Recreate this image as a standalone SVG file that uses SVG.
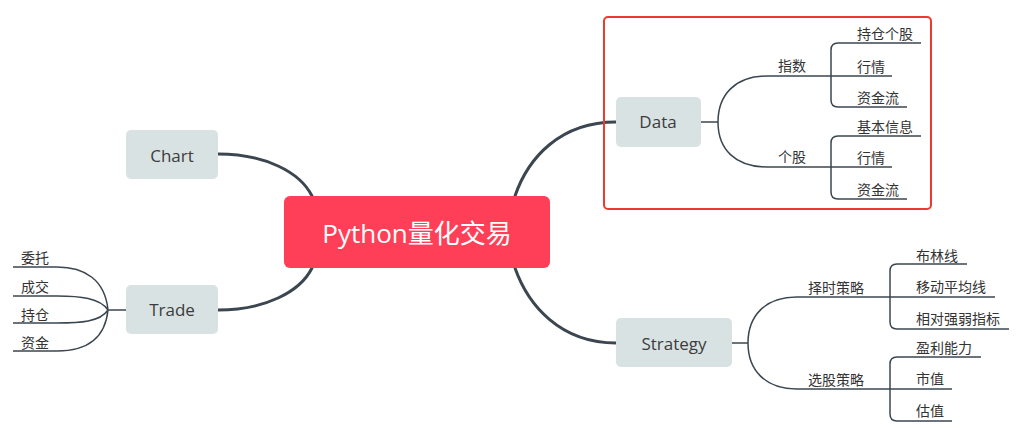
<svg xmlns="http://www.w3.org/2000/svg" width="1016" height="428" viewBox="0 0 1016 428">
<style>
.main{fill:none;stroke:#3b4650;stroke-width:3;stroke-linecap:round}
.sub{fill:none;stroke:#3b4650;stroke-width:1.5}
.node{fill:#d9e2e3}
.nt{font-family:"Open Sans","Noto Sans CJK SC",sans-serif;font-size:17px;fill:#3c3c3c;text-anchor:middle}
.lt{font-family:"Noto Sans CJK SC","Noto Sans",sans-serif;font-size:14px;fill:#333}
</style>
<rect width="1016" height="428" fill="#ffffff"/>
<g id="connectors">
<path class="main" d="M218,154 C265,154 300,172 312,196"/>
<path class="main" d="M218,310 C265,310 300,292 312,268"/>
<path class="main" d="M515,196 C528,158 560,122 616,122"/>
<path class="main" d="M515,268 C528,305 560,343 616,343"/>
<path class="sub" d="M701,122 L718,122 M718,122 C718,95 735,76 767,76 L892,76 M718,122 C718,149 735,167 767,167 L892,167"/>
<path class="sub" d="M921,43 L838,43 Q831,43 831,50 L831,100 Q831,107 838,107 L907,107"/>
<path class="sub" d="M921,136 L838,136 Q831,136 831,143 L831,192 Q831,199 838,199 L907,199"/>
<path class="sub" d="M732,343 L748,343 M748,343 C748,316 765,297 797,297 L995,297 M748,343 C748,370 765,389 797,389 L952,389"/>
<path class="sub" d="M967,264 L897,264 Q890,264 890,271 L890,322 Q890,329 897,329 L1009,329"/>
<path class="sub" d="M981,357 L897,357 Q890,357 890,364 L890,414 Q890,421 897,421 L952,421"/>
<path class="sub" d="M126,310 L108,310 M108,310 C105,280 85,267 57,267 L13,267 M108,310 C100,298 80,296 57,296 L13,296 M108,310 C100,322 80,323 57,323 L13,323 M108,310 C105,340 85,351 57,351 L13,351"/>
</g>
<g id="data-frame">
<rect x="604" y="17" width="327" height="192" rx="4" fill="none" stroke="#ee3a2c" stroke-width="2"/>
</g>
<g id="center">
<rect x="284" y="196" width="266" height="72" rx="6" fill="#ff3f57"/>
<text x="417" y="243" text-anchor="middle" font-family="'Open Sans','Noto Sans CJK SC',sans-serif" font-size="26" fill="#ffffff">Python量化交易</text>
</g>
<g id="chart"><rect class="node" x="126" y="130" width="92" height="49" rx="5"/><text class="nt" x="172" y="162">Chart</text></g>
<g id="trade"><rect class="node" x="126" y="285" width="92" height="49" rx="5"/><text class="nt" x="172" y="316">Trade</text></g>
<g id="data"><rect class="node" x="616" y="97" width="85" height="50" rx="5"/><text class="nt" x="658" y="128">Data</text></g>
<g id="strategy"><rect class="node" x="616" y="318" width="116" height="49" rx="5"/><text class="nt" x="674" y="350">Strategy</text></g>
<g id="data-labels">
<text class="lt" x="778" y="71">指数</text>
<text class="lt" x="778" y="162">个股</text>
<text class="lt" x="857" y="39">持仓个股</text>
<text class="lt" x="857" y="72">行情</text>
<text class="lt" x="857" y="103">资金流</text>
<text class="lt" x="857" y="132">基本信息</text>
<text class="lt" x="857" y="163">行情</text>
<text class="lt" x="857" y="195">资金流</text>
</g>
<g id="strategy-labels">
<text class="lt" x="808" y="293">择时策略</text>
<text class="lt" x="808" y="385">选股策略</text>
<text class="lt" x="916" y="261">布林线</text>
<text class="lt" x="916" y="292">移动平均线</text>
<text class="lt" x="916" y="324">相对强弱指标</text>
<text class="lt" x="916" y="353">盈利能力</text>
<text class="lt" x="916" y="384">市值</text>
<text class="lt" x="916" y="416">估值</text>
</g>
<g id="trade-labels">
<text class="lt" x="21" y="263">委托</text>
<text class="lt" x="21" y="292">成交</text>
<text class="lt" x="21" y="320">持仓</text>
<text class="lt" x="21" y="348">资金</text>
</g>
</svg>
